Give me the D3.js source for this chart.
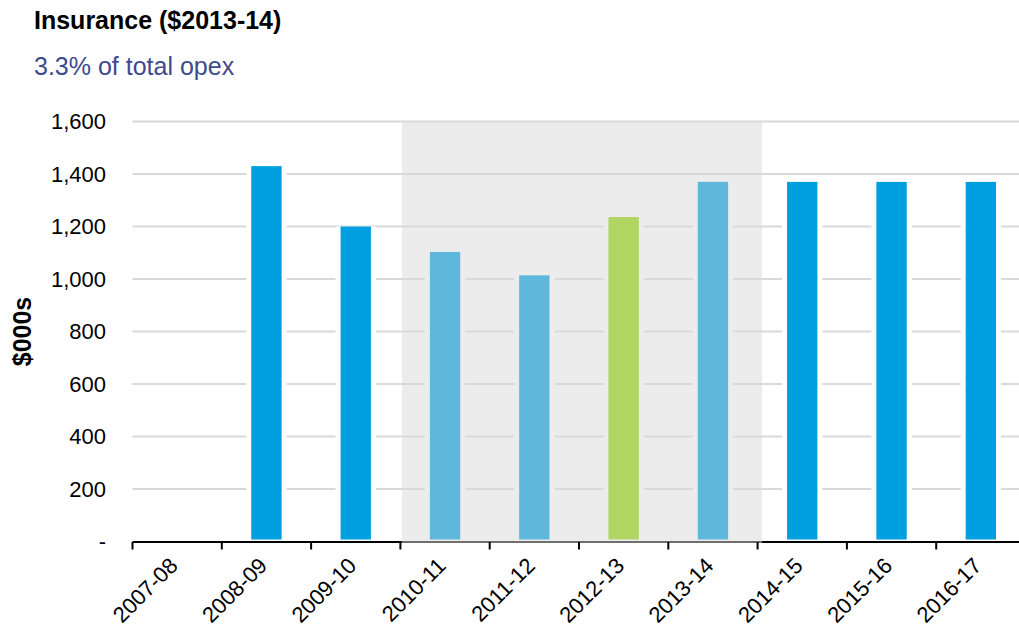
<!DOCTYPE html>
<html>
<head>
<meta charset="utf-8">
<script src="https://cdn.jsdelivr.net/npm/d3@7/dist/d3.min.js"></script>
<style>
  html, body { margin: 0; padding: 0; background: #ffffff; }
  svg { display: block; font-family: "Liberation Sans", Arial, sans-serif; }
</style>
</head>
<body>
<svg id="chart" width="1019" height="630"></svg>
<script>
// Financial years on the x axis
const categories = ["2007-08", "2008-09", "2009-10", "2010-11", "2011-12",
                    "2012-13", "2013-14", "2014-15", "2015-16", "2016-17"];
// Insurance opex, $000s (2013-14 dollars); null = no value reported
const values = [null, 1430, 1200, 1103, 1014, 1236, 1370, 1370, 1370, 1370];
// Years inside the shaded period and the base year
const shadedYears = ["2010-11", "2011-12", "2012-13", "2013-14"];
const baseYear = "2012-13";
// Y axis ticks
const yTicks = [0, 200, 400, 600, 800, 1000, 1200, 1400, 1600];

const title = "Insurance ($2013-14)";
const subtitle = "3.3% of total opex";
const yTitle = "$000s";

const W = 1019, H = 630;
const plotLeft = 132.5, plotRight = 1025.5, plotTop = 121.5, plotBottom = 541.5;

const colBar = "#00a0e0", colShadedBar = "#5fb8db", colBase = "#b1d561";
const colShade = "#ececec", colGrid = "#d9d9d9";

const svg = d3.select("#chart");

// Scales
const xEdge = d3.scaleBand().domain(categories).range([plotLeft, plotRight]);
const x = d3.scaleBand().domain(categories).range([plotLeft, plotRight])
  .paddingInner(0.66).paddingOuter(0.33);
const y = d3.scaleLinear().domain([0, 1600]).range([plotBottom, plotTop]);

const inShade = d => shadedYears.includes(d);

// Shaded period background
const shadeX0 = xEdge(shadedYears[0]) + 1.5;
const shadeX1 = xEdge(shadedYears[shadedYears.length - 1]) + xEdge.bandwidth() + 4.5;
svg.append("rect")
  .attr("x", shadeX0).attr("y", y(1600))
  .attr("width", shadeX1 - shadeX0).attr("height", y(0) - y(1600))
  .attr("fill", colShade);

// Horizontal gridlines
svg.append("g").selectAll("line")
  .data(yTicks.filter(d => d > 0))
  .join("line")
  .attr("x1", plotLeft).attr("x2", W)
  .attr("y1", d => y(d)).attr("y2", d => y(d))
  .attr("stroke", colGrid).attr("stroke-width", 2);

const data = categories.map((c, i) => ({ cat: c, value: values[i] }))
  .filter(d => d.value != null);

// Gridlines break around each bar
svg.append("g").selectAll("rect")
  .data(data)
  .join("rect")
  .attr("x", d => x(d.cat) - 5)
  .attr("y", d => y(d.value))
  .attr("width", x.bandwidth() + 10)
  .attr("height", d => y(0) - y(d.value))
  .attr("fill", d => inShade(d.cat) ? colShade : "#ffffff");

// Bars
svg.append("g").selectAll("rect")
  .data(data)
  .join("rect")
  .attr("x", d => x(d.cat))
  .attr("y", d => y(d.value))
  .attr("width", x.bandwidth())
  .attr("height", d => Math.max(0, y(0) - y(d.value) - 2))
  .attr("fill", d => d.cat === baseYear ? colBase : (inShade(d.cat) ? colShadedBar : colBar));

// X axis: line and boundary ticks
const axisY = y(0) + 0.5;
const xAxisG = svg.append("g").attr("transform", `translate(0,${axisY})`);
xAxisG.append("line")
  .attr("x1", plotLeft).attr("x2", W)
  .attr("stroke", "#000").attr("stroke-width", 2);
xAxisG.append("line")
  .attr("x1", shadeX0).attr("x2", shadeX1)
  .attr("stroke", "#6f6f6f").attr("stroke-width", 2);
xAxisG.selectAll("line.tick")
  .data(categories.concat(["end"]))
  .join("line")
  .attr("class", "tick")
  .attr("x1", (d, i) => plotLeft + i * xEdge.step())
  .attr("x2", (d, i) => plotLeft + i * xEdge.step())
  .attr("y1", 0).attr("y2", 7.5)
  .attr("stroke", "#000").attr("stroke-width", 2);

// X axis labels
const xLabels = svg.append("g")
  .attr("transform", `translate(0,${axisY})`)
  .call(d3.axisBottom(xEdge).tickSize(0).tickSizeOuter(0));
xLabels.select(".domain").remove();
xLabels.selectAll("text")
  .attr("x", 0).attr("y", 0).attr("dy", 0)
  .attr("text-anchor", "end")
  .attr("transform", "translate(2,25) rotate(-45)")
  .attr("fill", "#000")
  .style("font-size", "22px")
  .style("font-family", "'Liberation Sans', Arial, sans-serif");

// Y axis labels
const yAxisG = svg.append("g")
  .attr("transform", `translate(${plotLeft},0)`)
  .call(d3.axisLeft(y).tickValues(yTicks).tickSize(0).tickPadding(26.5)
    .tickFormat(d => d === 0 ? "-" : d3.format(",")(d)));
yAxisG.select(".domain").remove();
yAxisG.selectAll("text")
  .attr("fill", "#000")
  .style("font-size", "22px")
  .style("font-family", "'Liberation Sans', Arial, sans-serif");

// Y axis title
svg.append("text")
  .attr("transform", `translate(31,${(plotTop + plotBottom) / 2}) rotate(-90)`)
  .attr("text-anchor", "middle")
  .attr("font-weight", "bold")
  .attr("font-size", 25)
  .text(yTitle);

// Titles
svg.append("text")
  .attr("x", 34).attr("y", 28.5)
  .attr("font-weight", "bold").attr("font-size", 25)
  .attr("fill", "#000")
  .text(title);
svg.append("text")
  .attr("x", 34).attr("y", 74.5)
  .attr("font-size", 25)
  .attr("fill", "#3d4a8f")
  .text(subtitle);
</script>
</body>
</html>
